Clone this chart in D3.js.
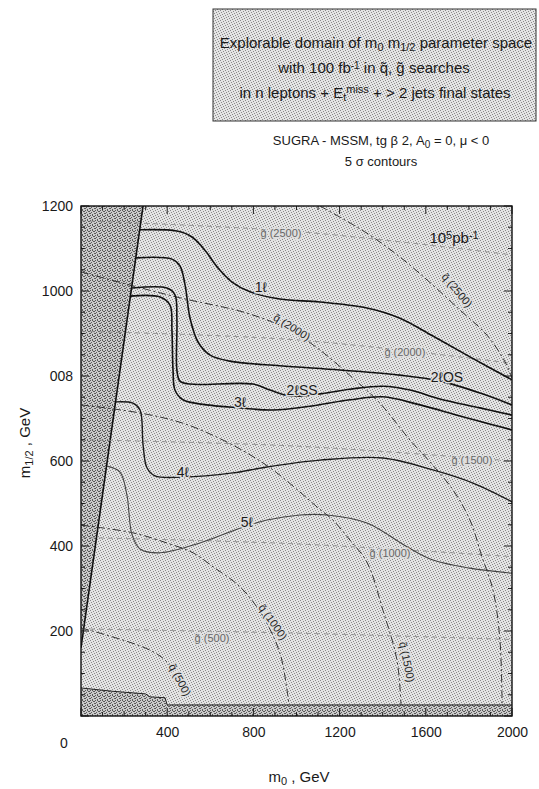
<!DOCTYPE html>
<html>
<head>
<meta charset="utf-8">
<script src="https://cdnjs.cloudflare.com/ajax/libs/d3/7.8.5/d3.min.js"></script>
<style>
body { margin: 0; background: #fff; }
svg text { font-family: "Liberation Sans", Arial, Helvetica, sans-serif; fill: #1a1a1a; }
</style>
</head>
<body>
<svg id="chart" width="539" height="789"></svg>
<script>
// axis ticks (the 800 label is printed upside down in the scan)
var xTicks = [400, 800, 1200, 1600, 2000];
var yTicks = [200, 400, 600, 800, 1000, 1200];
var yTickText = ["200", "400", "600", "008", "1000", "1200"];

// 5 sigma discovery contours, [m0, m1/2] in GeV
var oneLep = [[274,1144],[445,1141],[515,1127],[575,1096],[636,1054],[701,1021],[784,998],[923,981],[1109,974],[1327,960],[1480,936],[1633,894],[1805,845],[2000,791]];
var twoLepOS = [[255,1078],[422,1075],[459,1059],[483,1014],[506,936],[543,880],[599,849],[691,835],[923,824],[1202,814],[1480,802],[1666,788],[1852,760],[2000,732]];
var twoLepSS = [[237,1007],[399,1007],[436,991],[445,932],[445,814],[459,788],[506,781],[798,781],[877,767],[970,753],[1109,758],[1248,769],[1401,776],[1527,767],[1666,746],[1852,725],[2000,708]];
var threeLep = [[227,988],[367,986],[413,967],[422,908],[427,814],[436,767],[473,744],[585,732],[738,725],[891,720],[1063,729],[1248,744],[1401,751],[1573,732],[1759,706],[2000,673]];
var fourLep = [[162,739],[241,736],[274,720],[288,638],[306,584],[343,565],[473,562],[705,572],[863,586],[1109,602],[1401,607],[1633,579],[1819,548],[2000,504]];
var fiveLep = [[121,588],[181,574],[213,520],[237,426],[274,393],[367,384],[552,407],[738,442],[863,461],[1016,473],[1142,473],[1327,454],[1513,398],[1633,367],[1805,348],[2000,336]];

// squark mass contours
var sq2500 = [[1109,1200],[1327,1136],[1480,1080],[1606,1026],[1759,955],[1884,896],[1968,833],[2000,795]];
var sq2000 = [[0,1045],[227,1014],[459,984],[770,948],[970,908],[1109,861],[1262,795],[1387,736],[1527,649],[1619,598],[1726,532],[1805,461],[1861,374],[1912,296],[1944,179],[1954,26]];
var sq1500 = [[0,732],[274,713],[473,689],[631,656],[770,619],[891,579],[1016,527],[1095,492],[1169,461],[1248,414],[1327,362],[1401,249],[1466,132],[1485,26]];
var sq1000 = [[0,449],[241,431],[399,407],[520,384],[613,351],[738,304],[840,238],[923,148],[956,61],[965,26]];
var sq500 = [[0,207],[88,195],[320,155],[399,127],[450,85],[473,45]];

// gluino mass contours
var gl2500 = [[0,1165],[1000,1140],[2000,1085]];
var gl2000 = [[0,905],[1000,885],[2000,830]];
var gl1500 = [[0,650],[1000,635],[2000,600]];
var gl1000 = [[0,420],[1000,405],[2000,375]];
var gl500 = [[0,205],[1000,195],[2000,180]];

// theoretically excluded regions
var leftEdge = [[0,160],[288,1200],[0,1200]];
var bottomEdge = [[0,0],[0,66],[150,58],[300,52],[320,45],[390,43],[400,26],[2000,26],[2000,0]];

var curveNames = ["1ℓ", "2ℓOS", "2ℓSS", "3ℓ", "4ℓ", "5ℓ"];
var curveSpots = [[835,1010],[1698,797],[1026,767],[738,739],[473,574],[770,456]];

var massNames = ["g̃ (2500)", "q̃ (2500)", "q̃ (2000)", "g̃ (2000)", "g̃ (1500)", "g̃ (1000)", "q̃ (1500)", "q̃ (1000)", "g̃ (500)", "q̃ (500)"];
var massSpots = [[928,1136],[1745,1002],[979,915],[1503,856],[1814,602],[1434,384],[1513,127],[891,221],[608,184],[459,85]];
var massTilt = [0, 50, 32, 0, 0, 0, 78, 55, 0, 62];

var svg = d3.select("#chart");
var x = d3.scaleLinear().domain([0, 2000]).range([81, 512]);
var y = d3.scaleLinear().domain([0, 1200]).range([716, 206]);

var defs = svg.append("defs");
function stipple(id, base, ink, dots) {
  var p = defs.append("pattern").attr("id", id)
    .attr("width", 5).attr("height", 5).attr("patternUnits", "userSpaceOnUse");
  p.append("rect").attr("width", 5).attr("height", 5).attr("fill", base);
  dots.forEach(function(d) {
    p.append("rect").attr("x", d[0]).attr("y", d[1]).attr("width", 1).attr("height", 1).attr("fill", ink);
  });
}
stipple("light", "#e4e4e4", "#8a8a8a", [[0,0],[3,1],[1,2],[4,3],[2,4]]);
stipple("dark", "#cacaca", "#5a5a5a", [[0,0],[3,1],[1,2],[4,3],[2,4],[2,0],[0,3],[4,1]]);

defs.append("clipPath").attr("id", "plotclip").append("rect")
  .attr("x", x(0)).attr("y", y(1200)).attr("width", x(2000) - x(0)).attr("height", y(0) - y(1200));

// title box
svg.append("rect").attr("x", 213).attr("y", 9).attr("width", 323).attr("height", 112)
  .attr("fill", "url(#light)").attr("stroke", "#333").attr("stroke-width", 1);

var t1 = svg.append("text").attr("x", 376).attr("y", 48).attr("text-anchor", "middle").style("font-size", "15px");
t1.append("tspan").text("Explorable domain of m");
t1.append("tspan").attr("baseline-shift", "-25%").style("font-size", "11px").text("0");
t1.append("tspan").text(" m");
t1.append("tspan").attr("baseline-shift", "-25%").style("font-size", "11px").text("1/2");
t1.append("tspan").text(" parameter space");

var t2 = svg.append("text").attr("x", 374).attr("y", 73).attr("text-anchor", "middle").style("font-size", "15px");
t2.append("tspan").text("with 100 fb");
t2.append("tspan").attr("baseline-shift", "40%").style("font-size", "10px").text("-1");
t2.append("tspan").text(" in q̃, g̃ searches");

var t3 = svg.append("text").attr("x", 375).attr("y", 98).attr("text-anchor", "middle").style("font-size", "15px");
t3.append("tspan").text("in n leptons + E");
t3.append("tspan").attr("baseline-shift", "-25%").style("font-size", "11px").text("t");
t3.append("tspan").attr("baseline-shift", "45%").style("font-size", "11px").text("miss");
t3.append("tspan").text(" + > 2 jets final states");

var s1 = svg.append("text").attr("x", 381).attr("y", 145).attr("text-anchor", "middle").style("font-size", "13px");
s1.append("tspan").text("SUGRA - MSSM, tg β 2, A");
s1.append("tspan").attr("baseline-shift", "-25%").style("font-size", "10px").text("0");
s1.append("tspan").text(" = 0, μ < 0");
svg.append("text").attr("x", 381).attr("y", 166).attr("text-anchor", "middle").style("font-size", "13px").text("5 σ contours");

// plot background
var plot = svg.append("g").attr("clip-path", "url(#plotclip)");
plot.append("rect").attr("x", x(0)).attr("y", y(1200)).attr("width", x(2000) - x(0)).attr("height", y(0) - y(1200))
  .attr("fill", "url(#light)");

var poly = d3.line().x(function(d) { return x(d[0]); }).y(function(d) { return y(d[1]); });
plot.append("path").attr("d", poly(leftEdge) + "Z").attr("fill", "url(#dark)");
plot.append("path").attr("d", poly(bottomEdge) + "Z").attr("fill", "url(#dark)");
plot.append("path").attr("d", poly(bottomEdge.slice(1, -1))).attr("fill", "none").attr("stroke", "#222").attr("stroke-width", 1);
plot.append("path").attr("d", poly([leftEdge[0], leftEdge[1]])).attr("fill", "none").attr("stroke", "#111").attr("stroke-width", 1.6);

var smooth = d3.line().x(function(d) { return x(d[0]); }).y(function(d) { return y(d[1]); })
  .curve(d3.curveCatmullRom.alpha(0.5));

[gl2500, gl2000, gl1500, gl1000, gl500].forEach(function(c) {
  plot.append("path").attr("d", smooth(c)).attr("fill", "none")
    .attr("stroke", "#888").attr("stroke-width", 0.8).attr("stroke-dasharray", "5,4");
});
[sq2500, sq2000, sq1500, sq1000, sq500].forEach(function(c) {
  plot.append("path").attr("d", smooth(c)).attr("fill", "none")
    .attr("stroke", "#222").attr("stroke-width", 0.9).attr("stroke-dasharray", "8,3,2,3");
});

var solid = [oneLep, twoLepOS, twoLepSS, threeLep, fourLep, fiveLep];
var widths = [1.6, 1.6, 1.6, 1.6, 1.4, 1.1];
var inks = ["#111", "#111", "#111", "#111", "#1a1a1a", "#444"];
solid.forEach(function(c, i) {
  plot.append("path").attr("d", smooth(c)).attr("fill", "none")
    .attr("stroke", inks[i]).attr("stroke-width", widths[i]);
});

// mass labels
massNames.forEach(function(n, i) {
  var isGluino = n.charAt(0) === "g";
  plot.append("text")
    .attr("transform", "translate(" + x(massSpots[i][0]) + "," + y(massSpots[i][1]) + ") rotate(" + massTilt[i] + ")")
    .attr("text-anchor", "middle").attr("dy", "0.35em")
    .style("font-size", "11px")
    .style("fill", isGluino ? "#666" : "#222")
    .style("stroke", "#dedede").style("stroke-width", 3).style("paint-order", "stroke")
    .text(n);
});

// curve labels
curveNames.forEach(function(n, i) {
  plot.append("text").attr("x", x(curveSpots[i][0])).attr("y", y(curveSpots[i][1]))
    .attr("text-anchor", "middle").attr("dy", "0.35em")
    .style("font-size", "14px")
    .style("stroke", "#dedede").style("stroke-width", 3).style("paint-order", "stroke")
    .text(n);
});

var lum = plot.append("text").attr("x", x(1731)).attr("y", y(1125)).attr("text-anchor", "middle")
  .attr("dy", "0.35em").style("font-size", "15px");
lum.append("tspan").text("10");
lum.append("tspan").attr("baseline-shift", "40%").style("font-size", "11px").text("5");
lum.append("tspan").text("pb");
lum.append("tspan").attr("baseline-shift", "40%").style("font-size", "11px").text("-1");

// frame and inward ticks
var frame = svg.append("g");
d3.range(0, 2001, 100).forEach(function(v) {
  var len = v % 400 === 0 ? 8 : 4;
  frame.append("line").attr("x1", x(v)).attr("x2", x(v)).attr("y1", y(1200)).attr("y2", y(1200) + len).attr("stroke", "#222");
  frame.append("line").attr("x1", x(v)).attr("x2", x(v)).attr("y1", y(0)).attr("y2", y(0) - len).attr("stroke", "#222");
});
d3.range(0, 1201, 50).forEach(function(v) {
  var len = v % 200 === 0 ? 8 : 4;
  frame.append("line").attr("x1", x(0)).attr("x2", x(0) + len).attr("y1", y(v)).attr("y2", y(v)).attr("stroke", "#222");
  frame.append("line").attr("x1", x(2000)).attr("x2", x(2000) - len).attr("y1", y(v)).attr("y2", y(v)).attr("stroke", "#222");
});
frame.append("rect").attr("x", x(0)).attr("y", y(1200)).attr("width", x(2000) - x(0)).attr("height", y(0) - y(1200))
  .attr("fill", "none").attr("stroke", "#111").attr("stroke-width", 1.4);

var xAxis = svg.append("g").attr("transform", "translate(0," + y(0) + ")")
  .call(d3.axisBottom(x).tickValues(xTicks).tickSize(0).tickPadding(11).tickFormat(d3.format("d")));
var yAxis = svg.append("g").attr("transform", "translate(" + x(0) + ",0)")
  .call(d3.axisLeft(y).tickValues(yTicks).tickSize(0).tickPadding(8)
    .tickFormat(function(d, i) { return yTickText[i]; }));
[xAxis, yAxis].forEach(function(a) {
  a.select(".domain").remove();
  a.selectAll("text").style("font-size", "14px").style("font-family", "\"Liberation Sans\", Arial, sans-serif").attr("fill", "#1a1a1a");
});
svg.append("text").attr("x", 64).attr("y", 748).attr("text-anchor", "middle").style("font-size", "14px").text("0");

// axis titles
var xt = svg.append("text").attr("x", 299).attr("y", 782).attr("text-anchor", "middle").style("font-size", "15px");
xt.append("tspan").text("m");
xt.append("tspan").attr("baseline-shift", "-25%").style("font-size", "11px").text("0");
xt.append("tspan").text(" , GeV");

var yt = svg.append("text").attr("transform", "translate(30,443) rotate(-90)").attr("text-anchor", "middle").style("font-size", "15px");
yt.append("tspan").text("m");
yt.append("tspan").attr("baseline-shift", "-25%").style("font-size", "11px").text("1/2");
yt.append("tspan").text(" , GeV");
</script>
</body>
</html>
